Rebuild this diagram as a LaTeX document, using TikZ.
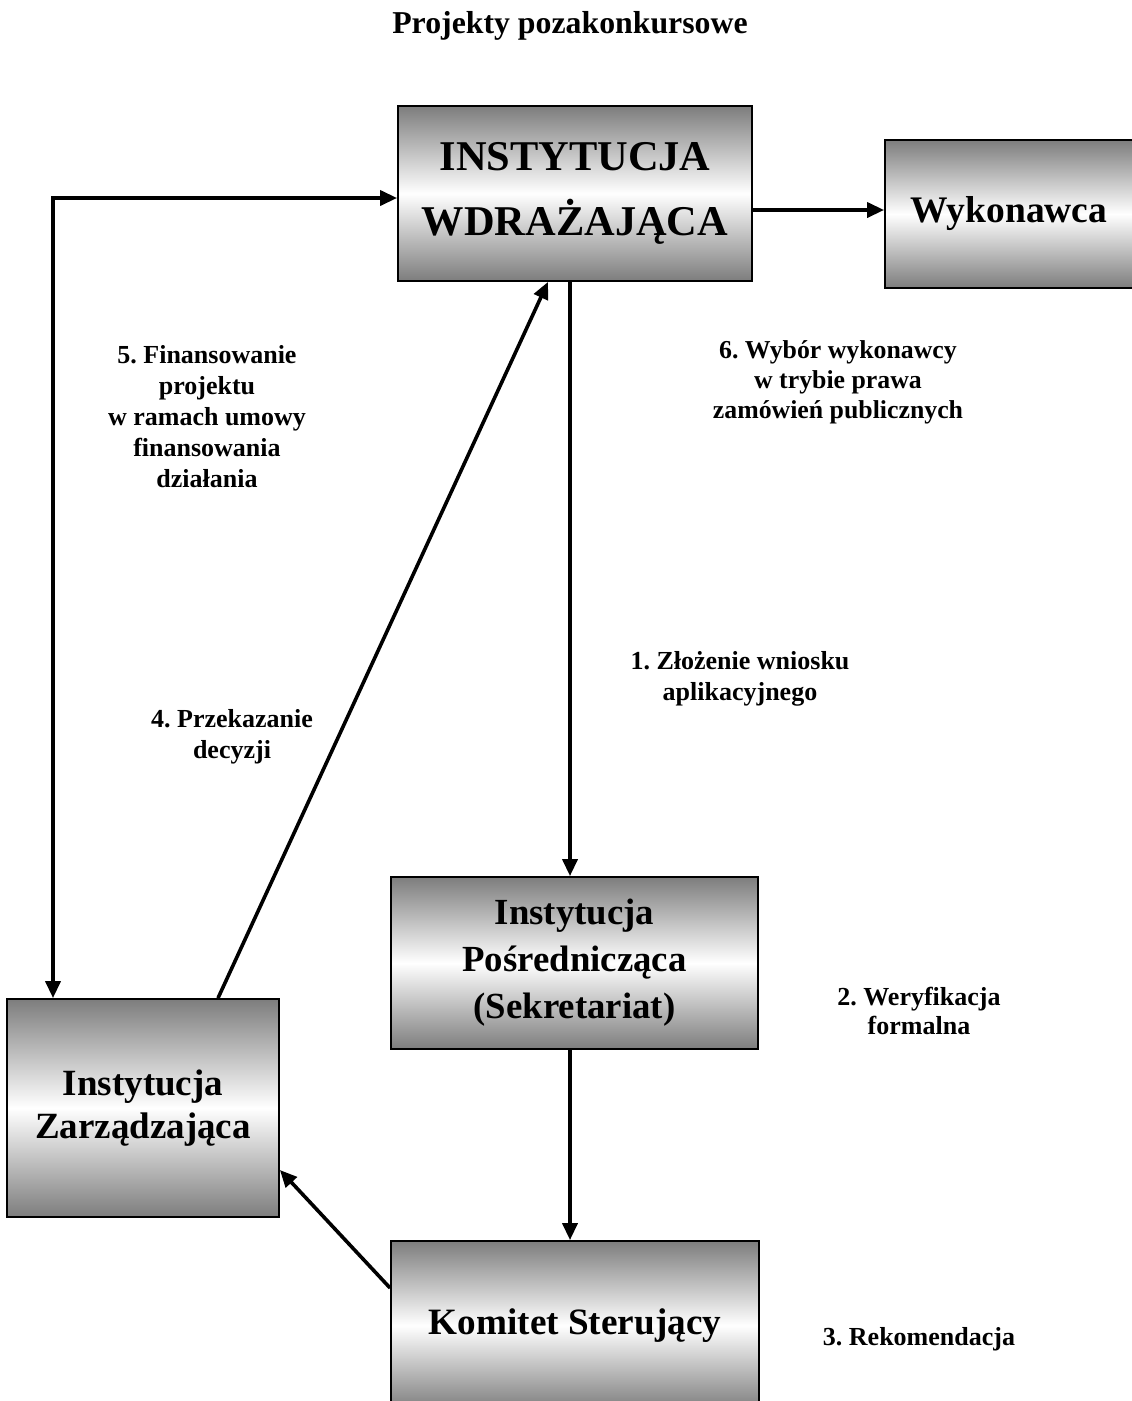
\documentclass[tikz,border=0pt]{standalone}
\usepackage{fontspec}
\setmainfont{Liberation Serif}
\usetikzlibrary{arrows.meta}
\definecolor{boxgray}{RGB}{125,125,125}
\newcommand{\fs}[2]{\fontsize{#1}{#2}\selectfont\bfseries\frenchspacing}
\tikzset{
  box/.style={draw=black, line width=1.8pt, top color=boxgray, bottom color=boxgray,
    middle color=white, inner sep=0pt, align=center},
  tip/.style={Triangle[length=17pt,width=15pt]},
  arr/.style={line width=3.6pt, -{Triangle[length=17pt,width=15pt]}},
  dbl/.style={line width=3.6pt, {Triangle[length=17pt,width=15pt]}-{Triangle[length=17pt,width=15pt]}},
  lbl/.style={align=center, inner sep=0pt, anchor=base, font=\fs{26}{31}}
}
\begin{document}
\begin{tikzpicture}[x=1pt,y=-1pt]
\clip (0,0) rectangle (1132,1401);
\fill[white] (0,0) rectangle (1132,1401);

\node[anchor=base, inner sep=0pt, font=\fs{31.8}{38}] (title) at (570,33) {Projekty pozakonkursowe};

\node[box, minimum width=354pt, minimum height=175pt, font=\fs{42.4}{65}] (IW) at (575,193.5) {INSTYTUCJA\\WDRAŻAJĄCA};
\node[box, minimum width=248pt, minimum height=148pt, font=\fs{37.5}{45}] (WYK) at (1009,214) {Wykonawca};
\node[box, minimum width=367pt, minimum height=172pt, font=\fs{36.8}{47}] (IP) at (574.5,963) {Instytucja\\Pośrednicząca\\(Sekretariat)};
\node[box, minimum width=272pt, minimum height=218pt, font=\fs{37}{43}] (IZ) at (143,1108) {Instytucja\\Zarządzająca};
\node[box, minimum width=368pt, minimum height=169pt, font=\fs{37.2}{45}] (KS) at (575,1325.5) {Komitet Sterujący};

% multi-line labels: base anchor is the baseline of the last line
\node[lbl] (l5) at (207,487) {5. Finansowanie\\projektu\\w ramach umowy\\finansowania\\działania};
\node[lbl, font=\fs{25.8}{30}] (l6) at (838,418) {6. Wybór wykonawcy\\w trybie prawa\\zamówień publicznych};
\node[lbl] (l1) at (740,700) {1. Złożenie wniosku\\aplikacyjnego};
\node[lbl] (l4) at (232,758) {4. Przekazanie\\decyzji};
\node[lbl, font=\fs{26}{29}] (l2) at (919,1034) {2. Weryfikacja\\formalna};
\node[lbl] (l3) at (919,1345) {3. Rekomendacja};

\coordinate (y6) at (0,210);
\draw[arr] (y6 -| IW.east) -- (y6 -| WYK.west);

\coordinate (c5) at (53,198);
\draw[dbl] (c5 |- IZ.north) -- (c5) -- (c5 -| IW.west);

\coordinate (x1) at (570,0);
\draw[arr] (x1 |- IW.south) -- (x1 |- IP.north);
\draw[arr] (x1 |- IP.south) -- (x1 |- KS.north);

\coordinate (x4a) at (218,0);
\coordinate (x4b) at (548,0);
\draw[arr] (x4a |- IZ.north) -- (x4b |- IW.south);

\coordinate (y3a) at (0,1288);
\coordinate (y3b) at (0,1170);
\draw[arr] (y3a -| KS.west) -- (y3b -| IZ.east);
\end{tikzpicture}
\end{document}
